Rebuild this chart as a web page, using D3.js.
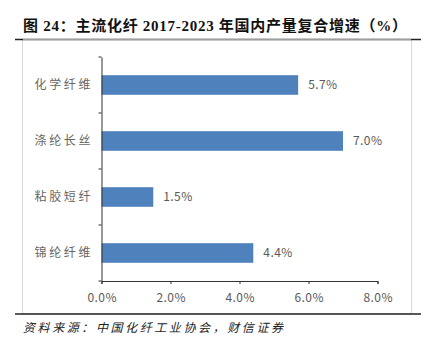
<!DOCTYPE html>
<html><head><meta charset="utf-8">
<script src="https://cdn.jsdelivr.net/npm/d3@7"></script>
<style>body{margin:0;background:#fff}svg{display:block}</style>
</head><body>
<svg id="c" width="431" height="346"></svg>
<script>
const categories = ["化学纤维","涤纶长丝","粘胶短纤","锦纶纤维"];
const values = [5.7, 7.0, 1.5, 4.4];
const xTicks = [0, 2, 4, 6, 8];
const title = "图 24：主流化纤 2017-2023 年国内产量复合增速（%）";
const source = "资料来源：中国化纤工业协会，财信证券";

const svg = d3.select("#c");
const cjk = "'Noto Sans CJK SC','Noto Sans',sans-serif";

// frame
svg.append("rect").attr("x",22.5).attr("y",39.5).attr("width",389).attr("height",274)
  .attr("fill","none").attr("stroke","#d9d9d9").attr("stroke-width",1);
svg.append("line").attr("x1",15).attr("x2",421).attr("y1",39.5).attr("y2",39.5).attr("stroke","#222").attr("stroke-width",1.5);
svg.append("line").attr("x1",23).attr("x2",411).attr("y1",40).attr("y2",40).attr("stroke","#c8c8c8").attr("stroke-width",1.5);
svg.append("line").attr("x1",15).attr("x2",421).attr("y1",314).attr("y2",314).attr("stroke","#222").attr("stroke-width",1.5);

// title
svg.append("text").attr("x",23).attr("y",31).attr("textLength",384).attr("lengthAdjust","spacing")
  .attr("font-family","'Liberation Serif','Noto Sans CJK SC',serif").attr("font-weight","bold")
  .attr("font-size",15).attr("fill","#111").text(title);

// source
svg.append("text").attr("x",23).attr("y",332).attr("textLength",260).attr("lengthAdjust","spacing")
  .attr("font-family",cjk).attr("font-style","italic")
  .attr("font-size",12).attr("fill","#222").text(source);

const x = d3.scaleLinear().domain([0,8]).range([101.5,377.5]);
const y = d3.scaleBand().domain(categories).range([57,281]).paddingInner(0.65).paddingOuter(0.325);

// bars
svg.append("g").selectAll("rect").data(values).join("rect")
  .attr("x",x(0)).attr("y",(d,i)=>y(categories[i]))
  .attr("width",d=>x(d)-x(0)).attr("height",y.bandwidth())
  .attr("fill","#4f81bd");

// value labels
svg.append("g").selectAll("text").data(values).join("text")
  .attr("x",d=>x(d)+10).attr("y",(d,i)=>y(categories[i])+y.bandwidth()/2)
  .attr("dy","0.35em").attr("font-family",cjk).attr("font-size",12)
  .attr("textLength",29).attr("lengthAdjust","spacing").attr("fill","#595959")
  .text(d=>d.toFixed(1)+"%");

// x axis
const xa = svg.append("g").attr("transform","translate(0,281)")
  .call(d3.axisBottom(x).tickValues(xTicks).tickSize(3).tickFormat(d=>d.toFixed(1)+"%"));
xa.select(".domain").attr("stroke","#333");
xa.selectAll(".tick line").attr("stroke","#333");
xa.selectAll(".tick text").attr("font-family",cjk).attr("font-size",12).attr("fill","#595959")
  .attr("textLength",29).attr("lengthAdjust","spacing").attr("y",12);

// y axis
const ya = svg.append("g").attr("transform",`translate(${x(0)},0)`)
  .call(d3.axisLeft(y).tickSize(0).tickPadding(11));
ya.select(".domain").attr("stroke","#333");
ya.selectAll(".tick text").attr("font-family",cjk).attr("font-size",12).attr("fill","#666")
  .attr("textLength",56).attr("lengthAdjust","spacing");
// category boundary ticks
const bounds = d3.range(categories.length+1).map(i=>57+i*y.step());
svg.append("g").selectAll("line").data(bounds).join("line")
  .attr("x1",x(0)-3).attr("x2",x(0)).attr("y1",d=>d).attr("y2",d=>d)
  .attr("stroke","#333");
</script>
</body></html>
